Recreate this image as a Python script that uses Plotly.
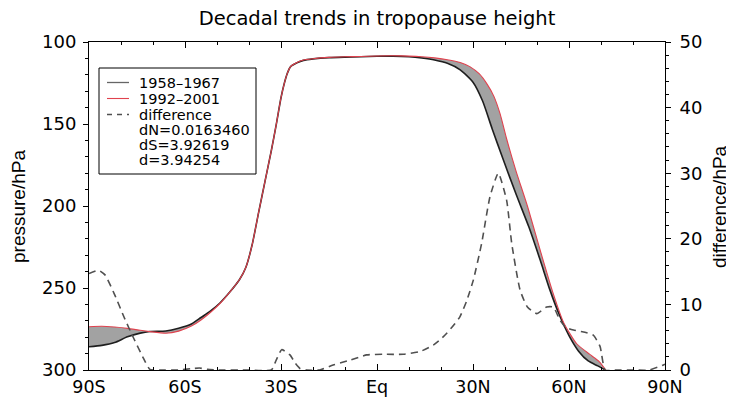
import plotly.graph_objects as go

# ---------------- data ----------------
lat_1958 = [-90, -86, -82, -78, -74, -71, -66, -62, -58, -55, -52, -49, -46, -43, -41, -39, -37, -35,
            -33, -31.5, -30, -29, -28, -27, -25, -23, -20, -15, -10, -5, 0, 5, 10, 14, 18, 22, 26, 30,
            33, 36, 39.5, 43.5, 47.5, 51, 54, 57, 60, 63, 66, 69, 71.4]
p_1958 = [285.8, 285.0, 283.3, 279.8, 277.5, 276.5, 276.2, 274.6, 272.0, 268.0, 264.0, 259.0, 252.5,
          245.0, 237.5, 223.5, 204.0, 185.0, 166.0, 150.5, 134.0, 125.5, 119.0, 115.0, 112.7, 111.2,
          110.3, 109.5, 109.2, 109.0, 108.7, 108.6, 109.0, 109.8, 111.0, 113.0, 117.0, 124.5,
          136.0, 153.0, 172.0, 193.0, 213.0, 233.0, 251.0, 266.5, 279.0, 288.5, 294.5, 297.5, 300.0]

lat_1992 = [-90, -86, -82, -78, -74, -71, -66, -62, -58, -55, -52, -49, -46, -43, -41, -39, -37, -35,
            -33, -31.5, -30, -29, -28, -27, -25, -23, -20, -15, -10, -5, 0, 5, 10, 14, 18, 22, 26, 29,
            32, 34.5, 36.5, 38.5, 40.5, 43.5, 47, 51, 55, 58.3, 62.4, 66.5, 69.5, 71.5]
p_1992 = [273.6, 273.3, 273.8, 274.6, 275.8, 276.6, 277.6, 276.3, 273.2, 269.5, 264.8, 259.3, 252.5,
          245.0, 237.5, 223.5, 204.0, 185.0, 166.0, 150.5, 134.0, 125.5, 119.0, 115.0, 112.5, 111.0,
          110.2, 109.4, 109.0, 108.8, 108.5, 108.4, 108.6, 109.0, 109.7, 110.8, 112.5, 115.0,
          119.5, 126.0, 133.0, 144.0, 159.0, 179.0, 200.0, 227.0, 253.0, 271.0, 284.0, 290.5, 295.0, 300.0]

lat_diff = [-90, -87, -85, -82, -79, -76, -73, -71, -68, -62, -58, -55.5, -53, -50, -40, -33, -31.5,
            -29.8, -27.2, -25.5, -24, -22, -18, -13.7, -8.4, -3.2, 2, 8.2, 13.4, 17.6, 19.7, 21.8,
            24.4, 25.9, 28, 30.1, 32.7, 35.3, 37.9, 40.5, 42.1, 44.7, 47, 49.9, 53, 55.1, 57.2, 59,
            61.4, 64.5, 67.6, 69.7, 71.3, 75, 80, 85, 89.5, 90]
diff = [14.7, 15.2, 14.5, 11.5, 8.0, 4.8, 1.8, 0.1, 0.0, 0.0, 0.2, 0.3, 0.1, 0.0, 0.0, 0.0, 1.5,
        3.1, 2.3, 1.0, 0.2, 0.0, 0.0, 0.76, 1.5, 2.3, 2.4, 2.4, 2.8, 3.8, 4.6, 5.6,
        7.1, 8.1, 10.5, 13.7, 19.3, 26.4, 30.0, 25.9, 19.3, 12.2, 9.6, 8.6, 9.6, 9.6, 7.6, 6.5,
        6.1, 5.8, 5.3, 3.6, 0.0, 0.0, 0.0, 0.0, 0.76, 0.9]

x_tickvals = [-90, -60, -30, 0, 30, 60, 90]
x_ticktext = ["90S", "60S", "30S", "Eq", "30N", "60N", "90N"]
y_tickvals = [100, 150, 200, 250, 300]
y2_tickvals = [0, 10, 20, 30, 40, 50]

names = ["1958\u20131967", "1992\u20132001", "difference"]
stats = ["dN=0.0163460", "dS=3.92619", "d=3.94254"]

# ---------------- style ----------------
FONT = "DejaVu Sans, Liberation Sans, Arial, sans-serif"
FONT_V = "Liberation Sans, Arial, sans-serif"
BLACK_C = "#1e1e1e"
RED_C = "#e0424e"
FILL_C = "#a2a2a2"
DASH_C = "#505050"

# the page body has an 8px margin, so the figure is made 8px smaller and
# all reference pixel positions are shifted by 8px
OFF = 8
W, H = 734 - OFF, 407 - OFF
ML, MT = 89 - OFF, 42 - OFF
PW, PH = 576, 328
MR, MB = W - ML - PW, H - MT - PH


def px(xr):
    return (xr - OFF - ML) / PW


def py(yr):
    return (MT + PH - (yr - OFF)) / PH


fig = go.Figure()

# fill between the two decades
fig.add_trace(go.Scatter(x=lat_1958, y=p_1958, mode="lines", line=dict(width=0, shape="spline", smoothing=0.6),
                         showlegend=False, hoverinfo="skip"))
fig.add_trace(go.Scatter(x=lat_1992, y=p_1992, mode="lines", line=dict(width=0, shape="spline", smoothing=0.6),
                         fill="tonexty", fillcolor=FILL_C, showlegend=False, hoverinfo="skip"))

fig.add_trace(go.Scatter(x=lat_1958, y=p_1958, mode="lines", name=names[0], showlegend=False,
                         line=dict(color=BLACK_C, width=1.6, shape="spline", smoothing=0.6)))
fig.add_trace(go.Scatter(x=lat_1992, y=p_1992, mode="lines", name=names[1], showlegend=False,
                         line=dict(color=RED_C, width=1.1, shape="spline", smoothing=0.6)))
fig.add_trace(go.Scatter(x=lat_diff, y=diff, mode="lines", name=names[2], yaxis="y2", showlegend=False,
                         line=dict(color=DASH_C, width=1.6, dash="7px,5px", shape="spline", smoothing=0.5)))

# ---------------- legend (drawn manually for tight spacing) ----------------
shapes = [dict(type="rect", xref="paper", yref="paper", x0=px(99), x1=px(256), y0=py(174), y1=py(68),
               line=dict(color="black", width=1), fillcolor="white", layer="above")]
annotations = []
row_y = [82.5, 98.5, 114.5, 130, 145, 159.5]
leg_styles = [dict(color="#666666", width=1.3), dict(color=RED_C, width=1.1),
              dict(color=DASH_C, width=1.3, dash="5px,5px")]
labels = names + stats
for i, lab in enumerate(labels):
    if i < 3:
        shapes.append(dict(type="line", xref="paper", yref="paper", x0=px(107), x1=px(129),
                           y0=py(row_y[i]), y1=py(row_y[i]), line=leg_styles[i], layer="above"))
    annotations.append(dict(text=lab, xref="paper", yref="paper", x=px(137), y=py(row_y[i]),
                            xanchor="left", yanchor="middle", showarrow=False,
                            font=dict(size=14.5, family=FONT, color="black")))

# axis titles
annotations.append(dict(text="pressure/hPa", xref="paper", yref="paper", x=px(18), y=py(207),
                        xanchor="center", yanchor="middle", textangle=-90, showarrow=False,
                        font=dict(size=19, family=FONT_V, color="black")))
annotations.append(dict(text="difference/hPa", xref="paper", yref="paper", x=px(719), y=py(207),
                        xanchor="center", yanchor="middle", textangle=-90, showarrow=False,
                        font=dict(size=19, family=FONT_V, color="black")))

fig.update_layout(
    width=W, height=H,
    margin=dict(l=ML, r=MR, t=MT, b=MB),
    paper_bgcolor="white", plot_bgcolor="white",
    font=dict(family=FONT, color="black"),
    title=dict(text="Decadal trends in tropopause height", x=px(377), xref="paper", xanchor="center",
               y=1 - (18 - OFF) / H, yref="container", yanchor="middle", font=dict(size=19.5, family=FONT)),
    showlegend=False,
    shapes=shapes,
    annotations=annotations,
    xaxis=dict(range=[-90, 90], tickvals=x_tickvals, ticktext=x_ticktext, ticks="inside", ticklen=6,
               tickcolor="black", tickwidth=1, showline=True, linecolor="black", linewidth=1,
               mirror="ticks", showgrid=False, zeroline=False, tickfont=dict(size=17.5), automargin=False,
               ticklabelstandoff=1,
               minor=dict(dtick=10, ticks="inside", ticklen=3, tickcolor="black", showgrid=False)),
    yaxis=dict(range=[300, 100], tickvals=y_tickvals, ticks="outside", ticklen=5, tickcolor="black",
               showline=True, linecolor="black", linewidth=1, showgrid=False, zeroline=False,
               tickfont=dict(size=18), automargin=False, ticklabelstandoff=3,
               minor=dict(dtick=10, ticks="outside", ticklen=3, tickcolor="black", showgrid=False)),
    yaxis2=dict(range=[0, 50], tickvals=y2_tickvals, overlaying="y", side="right", ticks="outside",
                ticklen=5, tickcolor="black", showline=True, linecolor="black", linewidth=1,
                showgrid=False, zeroline=False, tickfont=dict(size=18), automargin=False,
                ticklabelstandoff=5,
                minor=dict(dtick=2, ticks="outside", ticklen=3, tickcolor="black", showgrid=False)),
)

fig.write_html("out.html")
